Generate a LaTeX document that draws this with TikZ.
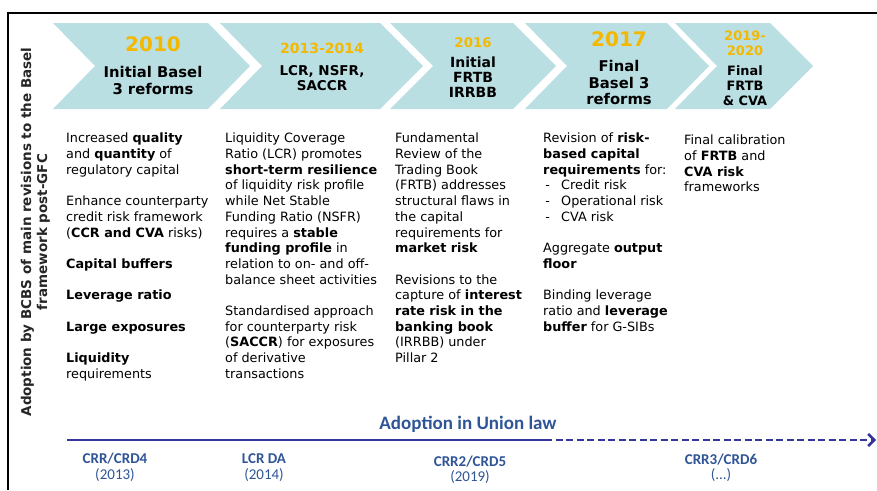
\documentclass[tikz,border=0pt]{standalone}
\usepackage{fontspec}
\setmainfont{DejaVu Sans}
\newfontfamily\lawfont{Carlito}
\usepackage{tikz}
\usetikzlibrary{arrows,arrows.meta}

\definecolor{chevfill}{HTML}{B9DFE3}
\definecolor{yeargold}{HTML}{F4B800}
\definecolor{lawarrow}{HTML}{33369A}
\definecolor{lawblue}{HTML}{2F5597}

\tikzset{
  chev/.style={fill=chevfill},
  yr/.style={text=yeargold, anchor=north, inner sep=0pt, align=center},
  ttl/.style={anchor=north, inner sep=0pt, align=center},
  body/.style={anchor=north west, inner sep=0pt, align=left, font=\fontsize{12.8}{15.7}\selectfont},
  lawlbl/.style={text=lawblue, inner sep=0pt, align=center, font=\lawfont\fontsize{15}{15.5}\selectfont},
}

\begin{document}
\begin{tikzpicture}[x=1pt,y=-1pt]
  \useasboundingbox (0,0) rectangle (877,490);
  % frame
  \draw[line width=1.6pt] (877,13) -- (8,13) -- (8,490);
  \node[rotate=90, inner sep=0pt, align=center, font=\fontsize{13.5}{16}\selectfont\bfseries, text=black!85] (side) at (35.5,232)
    {Adoption by BCBS of main revisions to the Basel\\framework post-GFC};

  % draw the chevrons
  \fill[chev] (53,23) -- (208,23) -- (250,66) -- (208,109) -- (53,109) -- (95,66) -- cycle;
  \fill[chev] (220,23) -- (380,23) -- (423,66) -- (380,109) -- (220,109) -- (262,66) -- cycle;
  \fill[chev] (390,23) -- (513,23) -- (556,66) -- (513,109) -- (390,109) -- (433,66) -- cycle;
  \fill[chev] (525,23) -- (667,23) -- (709,66) -- (667,109) -- (525,109) -- (567,66) -- cycle;
  \fill[chev] (675,23) -- (770,23) -- (813,66) -- (770,109) -- (675,109) -- (717,66) -- cycle;

  % years and titles
  \node[yr, font=\fontsize{20}{22}\selectfont\bfseries] (y1) at (153,35.4) {\strut 2010};
  \node[ttl, font=\fontsize{14.8}{17}\selectfont\bfseries] (t1) at (153,65) {\strut Initial Basel\\3 reforms};
  \node[yr, font=\fontsize{14}{16}\selectfont\bfseries] (y2) at (322,41.9) {\strut 2013-2014};
  \node[ttl, font=\fontsize{13.5}{14}\selectfont\bfseries] (t2) at (322,65.1) {\strut LCR, NSFR,\\SACCR};
  \node[yr, font=\fontsize{13.3}{15}\selectfont\bfseries] (y3) at (473,36.4) {\strut 2016};
  \node[ttl, font=\fontsize{14}{15}\selectfont\bfseries] (t3) at (473,56.6) {\strut Initial\\FRTB\\IRRBB};
  \node[yr, font=\fontsize{20}{22}\selectfont\bfseries] (y4) at (619,30.4) {\strut 2017};
  \node[ttl, font=\fontsize{14.8}{16.5}\selectfont\bfseries] (t4) at (619,59.8) {\strut Final\\Basel 3\\reforms};
  \node[yr, font=\fontsize{13}{14.5}\selectfont\bfseries] (y5) at (745,30.6) {\strut 2019-\\2020};
  \node[ttl, font=\fontsize{12.9}{15}\selectfont\bfseries] (t5) at (745,65.2) {\strut Final\\FRTB\\\& CVA};

  % text under each reform
  \node[body] (c1) at (66,131.7) {\strut Increased \textbf{quality}\\
    and \textbf{quantity} of\\
    regulatory capital\\[15.7pt]
    Enhance counterparty\\
    credit risk framework\\
    (\textbf{CCR and CVA} risks)\\[15.7pt]
    \textbf{Capital buffers}\\[15.7pt]
    \textbf{Leverage ratio}\\[15.7pt]
    \textbf{Large exposures}\\[15.7pt]
    \textbf{Liquidity}\\
    requirements};
  \node[body] (c2) at (225,131.7) {\strut Liquidity Coverage\\
    Ratio (LCR) promotes\\
    \textbf{short-term resilience}\\
    of liquidity risk profile\\
    while Net Stable\\
    Funding Ratio (NSFR)\\
    requires a \textbf{stable}\\
    \textbf{funding profile} in\\
    relation to on- and off-\\
    balance sheet activities\\[15.7pt]
    Standardised approach\\
    for counterparty risk\\
    (\textbf{SACCR}) for exposures\\
    of derivative\\
    transactions};
  \node[body] (c3) at (395,131.7) {\strut Fundamental\\
    Review of the\\
    Trading Book\\
    (FRTB) addresses\\
    structural flaws in\\
    the capital\\
    requirements for\\
    \textbf{market risk}\\[15.7pt]
    Revisions to the\\
    capture of \textbf{interest}\\
    \textbf{rate risk in the}\\
    \textbf{banking book}\\
    (IRRBB) under\\
    Pillar 2};
  \node[body] (c4) at (543,131.7) {\strut Revision of \textbf{risk-}\\
    \textbf{based capital}\\
    \textbf{requirements} for:\\
    \makebox[18pt][l]{\,-}Credit risk\\
    \makebox[18pt][l]{\,-}Operational risk\\
    \makebox[18pt][l]{\,-}CVA risk\\[15.7pt]
    Aggregate \textbf{output}\\
    \textbf{floor}\\[15.7pt]
    Binding leverage\\
    ratio and \textbf{leverage}\\
    \textbf{buffer} for G-SIBs};
  \node[body] (c5) at (684,133.7) {\strut Final calibration\\
    of \textbf{FRTB} and\\
    \textbf{CVA risk}\\
    frameworks};

  % adoption in Union law
  \coordinate (lawstart) at (67,440);
  \coordinate (lawmid) at (545,440);
  \coordinate (lawend) at (876,440);
  \draw[lawarrow, line width=2.6pt] (lawstart) -- (lawmid);
  \draw[lawarrow, line width=2.6pt, dash pattern=on 7pt off 3.5pt, -{Straight Barb[length=6pt,width=12pt]}] (lawmid) -- (lawend);
  \node[lawlbl, font=\lawfont\fontsize{19}{21}\selectfont\bfseries] (union) at (468,424) {Adoption in Union law};
  \node[lawlbl] (crd4) at (115,467.5) {\textbf{CRR/CRD4}\\(2013)};
  \node[lawlbl] (lcrda) at (264,467.5) {\textbf{LCR DA}\\(2014)};
  \node[lawlbl] (crd5) at (470,470) {\textbf{CRR2/CRD5}\\(2019)};
  \node[lawlbl] (crd6) at (721,468) {\textbf{CRR3/CRD6}\\(...)};
\end{tikzpicture}
\end{document}
